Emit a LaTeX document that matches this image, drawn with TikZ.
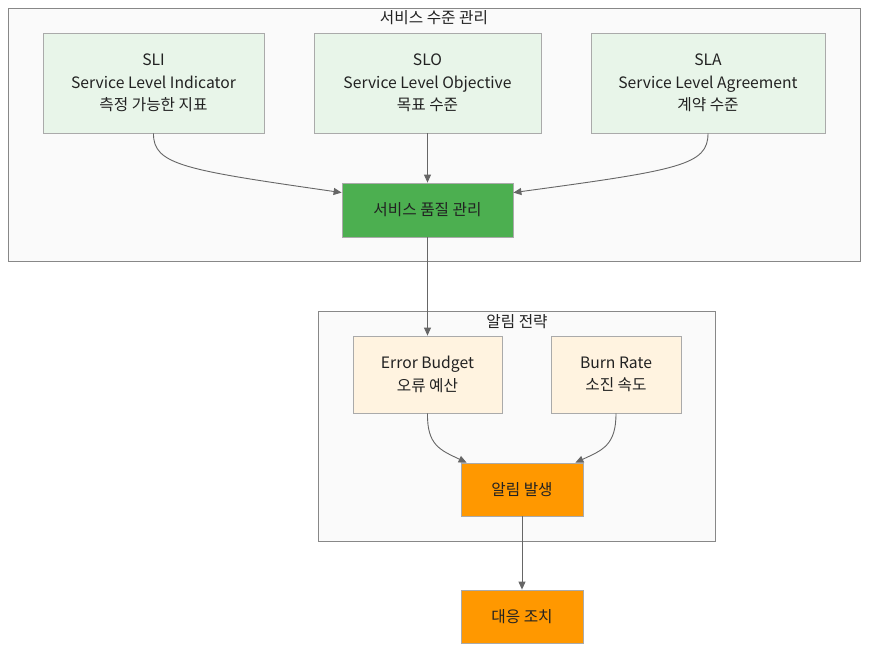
\documentclass[tikz,border=0pt]{standalone}
\usepackage{fontspec}
\setmainfont{Noto Sans CJK KR}
\usepackage{tikz}
\usetikzlibrary{arrows.meta}
\definecolor{sligreen}{HTML}{E8F5E9}
\definecolor{qgreen}{HTML}{4CAF50}
\definecolor{lorange}{HTML}{FFF3E0}
\definecolor{dorange}{HTML}{FF9800}
\definecolor{clfill}{HTML}{FAFAFA}
\definecolor{clline}{HTML}{888888}
\definecolor{boxline}{HTML}{AAAAAA}
\definecolor{edgegray}{HTML}{666666}
\definecolor{txt}{HTML}{222222}
\tikzstyle{box} = [rectangle, draw=boxline, line width=0.8pt, align=center, text=txt, font=\fontsize{15.7}{22.5}\selectfont]
\tikzstyle{cluster} = [draw=clline, fill=clfill, line width=0.8pt]
\tikzstyle{edge} = [draw=edgegray, line width=0.9pt, -{Triangle[length=8pt,width=7pt]}]

\begin{document}
\begin{tikzpicture}[x=1pt,y=-1pt]
			\tikzset{every node/.style={inner sep=0pt}}
\useasboundingbox (0,0) rectangle (876,658);
% clusters
\draw[cluster] (8,8) rectangle (860,261);
\node[text=txt, font=\fontsize{15.7}{18}\selectfont] (t1) at (434,18) {서비스 수준 관리};
\draw[cluster] (318,311) rectangle (715,541);
\node[text=txt, font=\fontsize{15.7}{18}\selectfont] (t2) at (517,322) {알림 전략};

\node[box, fill=sligreen, minimum width=221, minimum height=100] (sli) at (153.5,83) {SLI\\Service Level Indicator\\측정 가능한 지표};
\node[box, fill=sligreen, minimum width=227, minimum height=100] (slo) at (427.5,83) {SLO\\Service Level Objective\\목표 수준};
\node[box, fill=sligreen, minimum width=234, minimum height=100] (sla) at (708,83) {SLA\\Service Level Agreement\\계약 수준};
\node[box, fill=qgreen, minimum width=171, minimum height=54] (quality) at (427.5,210) {서비스 품질 관리};

\node[box, fill=lorange, minimum width=149, minimum height=77] (budget) at (427.5,374.5) {Error Budget\\오류 예산};
\node[box, fill=lorange, minimum width=130, minimum height=77] (burn) at (616,374.5) {Burn Rate\\소진 속도};
\node[box, fill=dorange, minimum width=122, minimum height=53] (alert) at (522,489.5) {알림 발생};
\node[box, fill=dorange, minimum width=122, minimum height=53] (action) at (522,616.5) {대응 조치};

\foreach \from/\to in {slo/quality,quality/budget,alert/action}
{
	\draw[edge] (\from) -- (\to);
}
\draw[edge] (sli.south) .. controls (153,165) and (185,170) .. ([yshift=-10pt]quality.north west);
\draw[edge] (sla.south) .. controls (708,165) and (680,170) .. ([yshift=-10pt]quality.north east);
\draw[edge] (budget.south) .. controls (427,445) and (440,450) .. ([xshift=6pt]alert.north west);
\draw[edge] (burn.south) .. controls (616,445) and (603,450) .. ([xshift=-8pt]alert.north east);

		\end{tikzpicture}
\end{document}
